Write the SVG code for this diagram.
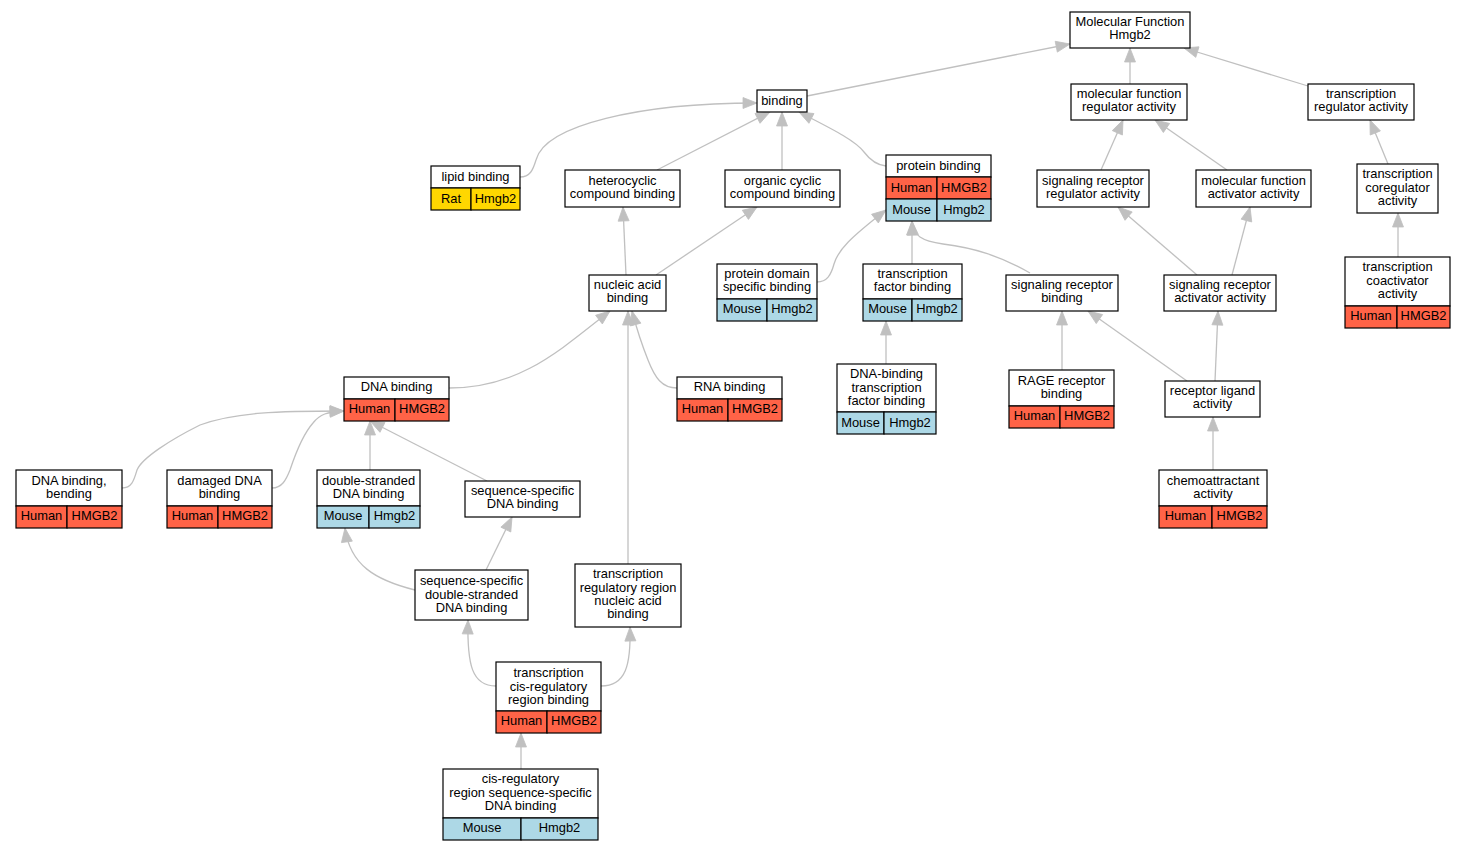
<svg xmlns="http://www.w3.org/2000/svg" width="1465" height="851" viewBox="0 0 1465 851">
<style>
text{font-family:"Liberation Sans",Arial,sans-serif;font-size:12.9px;text-anchor:middle;fill:#000}
.w,.h,.m,.g{stroke:#000;stroke-width:1.2}
.w{fill:#fff}
.h{fill:#FF6347}
.m{fill:#ADD8E6}
.g{fill:#FFD700}
#edges path{fill:none;stroke:#c0c0c0;stroke-width:1.3;marker-end:url(#arr)}
</style>
<defs>
<marker id="arr" markerUnits="userSpaceOnUse" markerWidth="15" markerHeight="12" refX="14" refY="6" orient="auto" viewBox="0 0 15 12" overflow="visible">
<path d="M0,0.5 L14,6 L0,11.5 z" fill="#c0c0c0" stroke="#c0c0c0" stroke-width="0.8"/>
</marker>
</defs>
<rect x="0" y="0" width="1465" height="851" fill="#fff"/>
<g id="edges">
<path d="M807,96 L1070,44"/>
<path d="M1130,84 L1130,48"/>
<path d="M1308,86 L1184,48"/>
<path d="M520,177 C530,177 533,170 536,160 C545,125 640,103 757,103"/>
<path d="M657,170 L770,112"/>
<path d="M782,170 L782,112"/>
<path d="M886,166 C876,165 870,160 864,152 C855,140 830,128 799,112"/>
<path d="M1101,170 L1123,120"/>
<path d="M1227,170 L1155,120"/>
<path d="M1388,164 L1370,120"/>
<path d="M626,275 L623,207"/>
<path d="M656,275 L757,207"/>
<path d="M817,282 C827,282 831,275 834,264 C838,250 850,238 886,210"/>
<path d="M912,264 L912,221"/>
<path d="M1030,273 C1000,256 975,248 943,244 C922,241 913,236 912,221"/>
<path d="M1197,275 L1118,207"/>
<path d="M1232,275 L1250,207"/>
<path d="M1398,257 L1398,213"/>
<path d="M449,388 C520,388 560,350 610,311"/>
<path d="M677,388 C662,388 655,378 648,360 C642,345 637,330 632,311"/>
<path d="M628,564 L628,311"/>
<path d="M886,364 L886,321"/>
<path d="M1062,370 L1062,311"/>
<path d="M1187,381 L1088,311"/>
<path d="M1215,381 L1218,311"/>
<path d="M1213,470 L1213,417"/>
<path d="M122,488 C132,488 134,480 137,470 C142,458 170,440 200,425 C235,412 280,411 344,411"/>
<path d="M272,488 C282,488 286,480 290,470 C296,452 305,432 313,423 C320,414 327,412 344,411"/>
<path d="M370,470 L370,421"/>
<path d="M487,481 L370,421"/>
<path d="M415,590 C375,580 350,565 345,528"/>
<path d="M486,570 L512,517"/>
<path d="M496,686 C472,686 467,665 468,620"/>
<path d="M601,686 C626,686 631,665 630,627"/>
<path d="M521,769 L521,733"/>
</g>
<g id="n_mf"><rect class="w" x="1070" y="12" width="120" height="36"/><text x="1130" y="26.3">Molecular Function</text><text x="1130" y="39.3">Hmgb2</text></g>
<g id="n_binding"><rect class="w" x="757" y="90" width="50" height="22"/><text x="782" y="105.3">binding</text></g>
<g id="n_mfr"><rect class="w" x="1071" y="84" width="116" height="36"/><text x="1129" y="98.3">molecular function</text><text x="1129" y="111.3">regulator activity</text></g>
<g id="n_tra"><rect class="w" x="1308" y="84" width="106" height="36"/><text x="1361" y="98.3">transcription</text><text x="1361" y="111.3">regulator activity</text></g>
<g id="n_lipid"><rect class="w" x="431" y="166" width="89" height="22"/><rect class="g" x="431" y="188" width="40" height="22"/><rect class="g" x="471" y="188" width="49" height="22"/><text x="475.5" y="181.3">lipid binding</text><text x="451" y="203.3">Rat</text><text x="495.5" y="203.3">Hmgb2</text></g>
<g id="n_hetero"><rect class="w" x="565" y="170" width="115" height="37"/><text x="622.5" y="185.3">heterocyclic</text><text x="622.5" y="198.3">compound binding</text></g>
<g id="n_organic"><rect class="w" x="725" y="170" width="115" height="37"/><text x="782.5" y="185.3">organic cyclic</text><text x="782.5" y="198.3">compound binding</text></g>
<g id="n_protein"><rect class="w" x="886" y="155" width="105" height="22"/><rect class="h" x="886" y="177" width="51" height="22"/><rect class="h" x="937" y="177" width="54" height="22"/><rect class="m" x="886" y="199" width="51" height="22"/><rect class="m" x="937" y="199" width="54" height="22"/><text x="938.5" y="170.3">protein binding</text><text x="911.5" y="192.3">Human</text><text x="964" y="192.3">HMGB2</text><text x="911.5" y="214">Mouse</text><text x="964" y="214">Hmgb2</text></g>
<g id="n_srra"><rect class="w" x="1037" y="170" width="112" height="37"/><text x="1093" y="185.3">signaling receptor</text><text x="1093" y="198.3">regulator activity</text></g>
<g id="n_mfaa"><rect class="w" x="1196" y="170" width="115" height="37"/><text x="1253.5" y="185.3">molecular function</text><text x="1253.5" y="198.3">activator activity</text></g>
<g id="n_tcoreg"><rect class="w" x="1357" y="164" width="81" height="49"/><text x="1397.5" y="178.3">transcription</text><text x="1397.5" y="191.5">coregulator</text><text x="1397.5" y="205">activity</text></g>
<g id="n_nucleic"><rect class="w" x="589" y="275" width="77" height="36"/><text x="627.5" y="289.3">nucleic acid</text><text x="627.5" y="302.3">binding</text></g>
<g id="n_pdsb"><rect class="w" x="717" y="264" width="100" height="35"/><rect class="m" x="717" y="299" width="50" height="22"/><rect class="m" x="767" y="299" width="50" height="22"/><text x="767" y="278.3">protein domain</text><text x="767" y="291.3">specific binding</text><text x="742" y="313.3">Mouse</text><text x="792" y="313.3">Hmgb2</text></g>
<g id="n_tfb"><rect class="w" x="863" y="264" width="99" height="35"/><rect class="m" x="863" y="299" width="49" height="22"/><rect class="m" x="912" y="299" width="50" height="22"/><text x="912.5" y="278.3">transcription</text><text x="912.5" y="291.3">factor binding</text><text x="887.5" y="313.3">Mouse</text><text x="937" y="313.3">Hmgb2</text></g>
<g id="n_srb"><rect class="w" x="1006" y="275" width="112" height="36"/><text x="1062" y="289.3">signaling receptor</text><text x="1062" y="302.3">binding</text></g>
<g id="n_sraa"><rect class="w" x="1164" y="275" width="112" height="36"/><text x="1220" y="289.3">signaling receptor</text><text x="1220" y="302.3">activator activity</text></g>
<g id="n_tcoact"><rect class="w" x="1345" y="257" width="105" height="49"/><rect class="h" x="1345" y="306" width="52" height="22"/><rect class="h" x="1397" y="306" width="53" height="22"/><text x="1397.5" y="271.3">transcription</text><text x="1397.5" y="284.5">coactivator</text><text x="1397.5" y="298">activity</text><text x="1371" y="320.3">Human</text><text x="1423.5" y="320.3">HMGB2</text></g>
<g id="n_dna"><rect class="w" x="344" y="377" width="105" height="22"/><rect class="h" x="344" y="399" width="51" height="22"/><rect class="h" x="395" y="399" width="54" height="22"/><text x="396.5" y="391.3">DNA binding</text><text x="369.5" y="413.3">Human</text><text x="422" y="413.3">HMGB2</text></g>
<g id="n_rna"><rect class="w" x="677" y="377" width="105" height="22"/><rect class="h" x="677" y="399" width="51" height="22"/><rect class="h" x="728" y="399" width="54" height="22"/><text x="729.5" y="391.3">RNA binding</text><text x="702.5" y="413.3">Human</text><text x="755" y="413.3">HMGB2</text></g>
<g id="n_dbtfb"><rect class="w" x="837" y="364" width="99" height="48"/><rect class="m" x="837" y="412" width="47" height="22"/><rect class="m" x="884" y="412" width="52" height="22"/><text x="886.5" y="378.3">DNA-binding</text><text x="886.5" y="391.5">transcription</text><text x="886.5" y="405">factor binding</text><text x="860.5" y="427">Mouse</text><text x="910" y="427">Hmgb2</text></g>
<g id="n_rage"><rect class="w" x="1009" y="370" width="105" height="36"/><rect class="h" x="1009" y="406" width="51" height="22"/><rect class="h" x="1060" y="406" width="54" height="22"/><text x="1061.5" y="385.3">RAGE receptor</text><text x="1061.5" y="398.3">binding</text><text x="1034.5" y="420.3">Human</text><text x="1087" y="420.3">HMGB2</text></g>
<g id="n_rla"><rect class="w" x="1165" y="381" width="95" height="36"/><text x="1212.5" y="395.3">receptor ligand</text><text x="1212.5" y="408.3">activity</text></g>
<g id="n_dbb"><rect class="w" x="16" y="470" width="106" height="36"/><rect class="h" x="16" y="506" width="51" height="22"/><rect class="h" x="67" y="506" width="55" height="22"/><text x="69" y="485.3">DNA binding,</text><text x="69" y="498.3">bending</text><text x="41.5" y="520.3">Human</text><text x="94.5" y="520.3">HMGB2</text></g>
<g id="n_ddb"><rect class="w" x="167" y="470" width="105" height="36"/><rect class="h" x="167" y="506" width="51" height="22"/><rect class="h" x="218" y="506" width="54" height="22"/><text x="219.5" y="485.3">damaged DNA</text><text x="219.5" y="498.3">binding</text><text x="192.5" y="520.3">Human</text><text x="245" y="520.3">HMGB2</text></g>
<g id="n_dsdb"><rect class="w" x="317" y="470" width="103" height="36"/><rect class="m" x="317" y="506" width="52" height="22"/><rect class="m" x="369" y="506" width="51" height="22"/><text x="368.5" y="485.3">double-stranded</text><text x="368.5" y="498.3">DNA binding</text><text x="343" y="520.3">Mouse</text><text x="394.5" y="520.3">Hmgb2</text></g>
<g id="n_ssdb"><rect class="w" x="465" y="481" width="115" height="36"/><text x="522.5" y="495.3">sequence-specific</text><text x="522.5" y="508.3">DNA binding</text></g>
<g id="n_chemo"><rect class="w" x="1159" y="470" width="108" height="36"/><rect class="h" x="1159" y="506" width="53" height="22"/><rect class="h" x="1212" y="506" width="55" height="22"/><text x="1213" y="485.3">chemoattractant</text><text x="1213" y="498.3">activity</text><text x="1185.5" y="520.3">Human</text><text x="1239.5" y="520.3">HMGB2</text></g>
<g id="n_ssds"><rect class="w" x="415" y="570" width="113" height="50"/><text x="471.5" y="585.3">sequence-specific</text><text x="471.5" y="598.5">double-stranded</text><text x="471.5" y="611.8">DNA binding</text></g>
<g id="n_trr"><rect class="w" x="575" y="564" width="106" height="63"/><text x="628" y="578.3">transcription</text><text x="628" y="591.5">regulatory region</text><text x="628" y="604.8">nucleic acid</text><text x="628" y="618">binding</text></g>
<g id="n_tcis"><rect class="w" x="496" y="662" width="105" height="49"/><rect class="h" x="496" y="711" width="51" height="22"/><rect class="h" x="547" y="711" width="54" height="22"/><text x="548.5" y="677.3">transcription</text><text x="548.5" y="690.5">cis-regulatory</text><text x="548.5" y="703.8">region binding</text><text x="521.5" y="725.3">Human</text><text x="574" y="725.3">HMGB2</text></g>
<g id="n_cis"><rect class="w" x="443" y="769" width="155" height="49"/><rect class="m" x="443" y="818" width="78" height="22"/><rect class="m" x="521" y="818" width="77" height="22"/><text x="520.5" y="783.3">cis-regulatory</text><text x="520.5" y="796.5">region sequence-specific</text><text x="520.5" y="809.8">DNA binding</text><text x="482" y="832.3">Mouse</text><text x="559.5" y="832.3">Hmgb2</text></g>
</svg>
